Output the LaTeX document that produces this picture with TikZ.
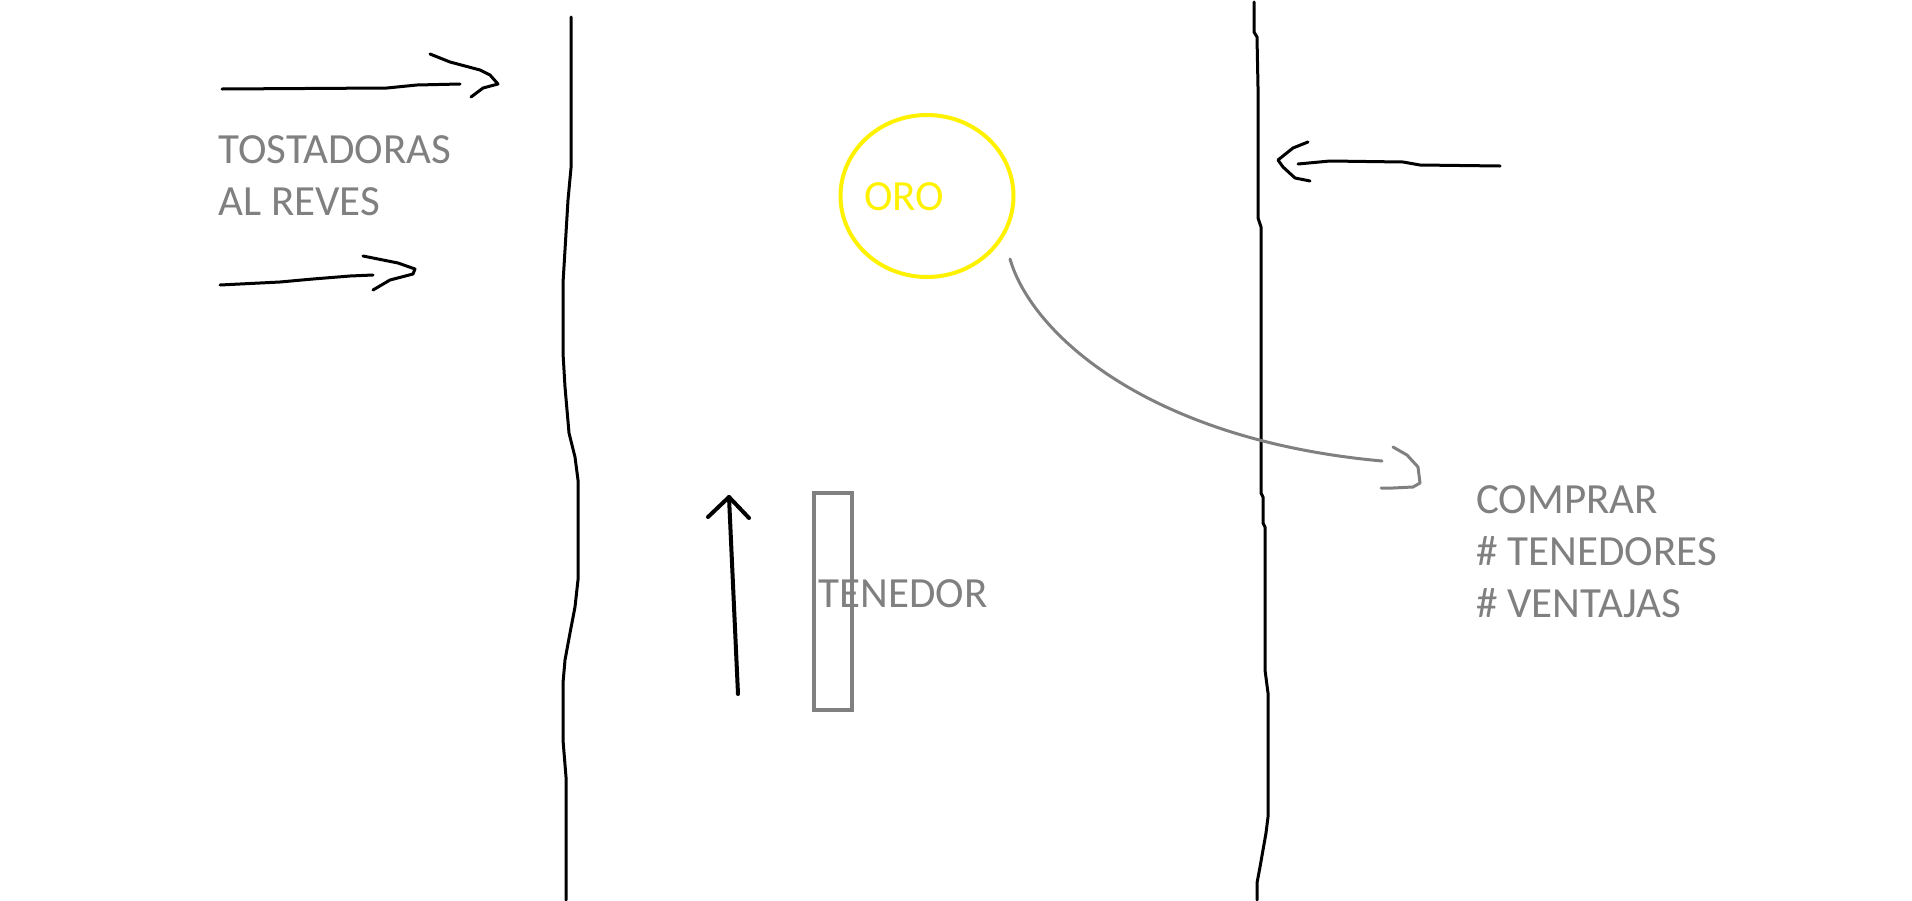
\documentclass[tikz,border=0pt]{standalone}
\usepackage{fontspec}
\setmainfont{Carlito}
\usepackage{tikz}
\usetikzlibrary{shapes,calc}
\usetikzlibrary{positioning}
\definecolor{orocolor}{RGB}{255,242,0}
\tikzstyle{stroke} = [draw=black, line width=1.5pt, line join=round, line cap=round]
\tikzstyle{graystroke} = [draw=gray, line width=1.5pt, line join=round, line cap=round]
\tikzstyle{word} = [text=gray, inner sep=0pt, font=\fontsize{21.5}{26}\selectfont]
\tikzstyle{gold} = [draw=orocolor, line width=2pt, ellipse, inner sep=0pt,
    minimum width=86.5pt, minimum height=81pt]
\tikzstyle{fork} = [draw=gray, line width=2pt, rectangle, inner sep=0pt,
    minimum width=19pt, minimum height=108.5pt]

\begin{document}
\begin{tikzpicture}[x=0.5pt, y=-0.5pt]
    \useasboundingbox (0,0) rectangle (1912,900);

    % the two walls
    \draw[stroke] (571,17) -- (571,168) -- (568,200) -- (565,250) -- (563,283) -- (563,353)
        -- (565,387) -- (569,433) -- (575,457) -- (578,480) -- (578,580) -- (575,607)
        -- (570,633) -- (565,660) -- (563,683) -- (563,740) -- (566,777) -- (566,900);
    \draw[stroke] (1254,2) -- (1254,32) -- (1257,37) -- (1258,87) -- (1258,218) -- (1261,227)
        -- (1261,493) -- (1263,497) -- (1263,523) -- (1265,527) -- (1265,670) -- (1268,693)
        -- (1268,817) -- (1266,833) -- (1260,867) -- (1257,883) -- (1257,900);

    % toasters
    \node[word, anchor=north west, align=left] at (218,135) (toasters) {TOSTADORAS\\AL REVES};
    \draw[stroke] (222,89) -- (387,88) -- (417,85) -- (460,84);
    \draw[stroke] (430,54) -- (450,62) -- (480,70) -- (490,75) -- (498,84) -- (483,88) -- (471,97);
    \draw[stroke] (220,285) -- (280,282) -- (313,279) -- (350,276) -- (373,275);
    \draw[stroke] (363,256) -- (383,260) -- (398,263) -- (415,269) -- (413,274) -- (390,280) -- (373,290);

    % gold
    \node[gold] at (927,196) (oro) {};
    \node[word, text=orocolor, anchor=base west] at (864,210) (orotxt) {ORO};

    % fork
    \node[fork] at (833,601.5) (forkbox) {};
    \node[word, anchor=base west] at (818,607) (forktxt) {TENEDOR};
    \coordinate (uptail) at (738,694);
    \coordinate (uptip) at (729,497);
    \draw[stroke, line width=2pt] (uptail) -- (uptip);
    \draw[stroke, line width=2pt] ($(uptip)+(-21,20)$) -- (uptip) -- ($(uptip)+(20,21)$);

    % right side
    \draw[stroke] (1500,166) -- (1420,165) -- (1403,162) -- (1330,161) -- (1298,164);
    \draw[stroke] (1308,142) -- (1293,148) -- (1278,160) -- (1283,167) -- (1295,178) -- (1310,181);
    \node[word, anchor=north west, align=left] at (1476,485) (buy) {COMPRAR\\\# TENEDORES\\\# VENTAJAS};
    \coordinate (linkfrom) at (1010,259);
    \coordinate (linkto) at (1382,461);
    \draw[graystroke] (linkfrom) .. controls (1032,335) and (1150,440) .. (linkto);
    \draw[graystroke] (1393,447) -- (1407,455) -- (1418,467) -- (1420,483) -- (1413,487) -- (1393,488) -- (1381,488);
\end{tikzpicture}
\end{document}
